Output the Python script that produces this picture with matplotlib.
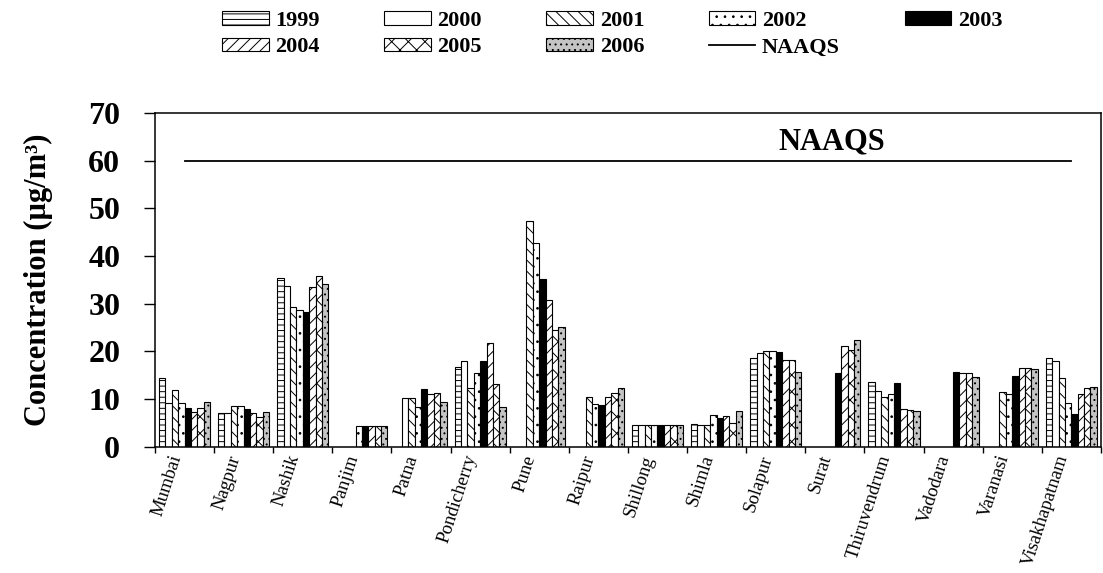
import numpy as np
import matplotlib
matplotlib.use("Agg")
import matplotlib.pyplot as plt

plt.rcParams['font.family'] = ['Liberation Serif', 'DejaVu Serif']
plt.rcParams['hatch.linewidth'] = 0.7

nan = np.nan

# cities along the x axis
cities = ["Mumbai", "Nagpur", "Nashik", "Panjim", "Patna", "Pondicherry", "Pune",
          "Raipur", "Shillong", "Shimla", "Solapur", "Surat", "Thiruvendrum",
          "Vadodara", "Varanasi", "Visakhapatnam"]

years = ["1999", "2000", "2001", "2002", "2003", "2004", "2005", "2006"]

# annual mean concentration (ug/m3) per city, one list per year
c1999 = [14.4, 7.2, 35.4, nan, nan, 16.8, nan, nan, 4.6, 4.8, 18.6, nan, 13.6, nan, nan, 18.6]
c2000 = [9.2, 7.1, 33.8, nan, 10.3, 18.0, nan, nan, 4.5, 4.6, 19.6, nan, 11.8, nan, nan, 18.0]
c2001 = [11.9, 8.6, 29.4, nan, 10.3, 12.3, 47.4, 10.5, 4.5, 4.6, 20.1, nan, 10.5, nan, 11.6, 14.4]
c2002 = [9.2, 8.6, 28.6, 4.4, 8.3, 15.5, 42.7, 9.1, 4.5, 6.7, 20.1, nan, 11.0, nan, 11.1, 9.2]
c2003 = [8.1, 7.9, 28.3, 4.4, 12.2, 18.0, 35.2, 8.8, 4.5, 6.1, 19.9, 15.4, 13.4, 15.6, 14.9, 7.0]
c2004 = [7.4, 7.1, 33.6, 4.4, 11.0, 21.7, 30.7, 10.4, 4.5, 6.4, 18.3, 21.2, 8.0, 15.5, 16.5, 11.0]
c2005 = [8.1, 6.2, 35.9, 4.4, 11.3, 13.2, 24.4, 11.3, 4.5, 5.0, 18.2, 20.3, 7.8, 15.5, 16.5, 12.3]
c2006 = [9.4, 7.4, 34.2, 4.4, 9.5, 8.3, 25.2, 12.3, 4.5, 7.6, 15.6, 22.4, 7.6, 14.6, 16.4, 12.6]

naaqs_limit = 60

series = [c1999, c2000, c2001, c2002, c2003, c2004, c2005, c2006]

# fill / hatch for each year (black and white print style)
fills = ["white", "white", "white", "white", "black", "white", "white", "#c4c4c4"]
hatches = ["---", None, "\\\\\\", "..", None, "///", "xx", "..."]

fig = plt.figure(figsize=(11.03, 5.73), dpi=100)
ax = fig.add_axes([0.1405, 0.22, 0.8576, 0.583])

n = len(cities)
centers = np.arange(n) + 0.5
w = 0.108

bars = []
for k, (yr, vals) in enumerate(zip(years, series)):
    b = ax.bar(centers + (k - 3.5) * w, vals, width=w, color=fills[k],
               edgecolor="black", linewidth=0.8, hatch=hatches[k], label=yr)
    bars.append(b)

line, = ax.plot(centers, [naaqs_limit] * n, color="black", lw=1.3, label="NAAQS")
ax.text(11.44, 63.9, "NAAQS", ha="center", va="center", fontsize=22, fontweight="bold")

ax.set_xlim(0, n)
ax.set_ylim(0, 70)
ax.set_yticks(np.arange(0, 71, 10))
ax.tick_params(axis="y", direction="out", length=8, width=1, pad=17, labelsize=23)
for t in ax.get_yticklabels():
    t.set_fontweight("bold")

ax.set_xticks(np.arange(n + 1))
ax.set_xticklabels([])
ax.tick_params(axis="x", which="major", direction="out", length=4.5, width=1)
ax.set_xticks(centers, minor=True)
ax.set_xticklabels(cities, minor=True, rotation=72, ha="right", va="bottom",
                   rotation_mode="anchor", fontsize=13.5)
ax.tick_params(axis="x", which="minor", length=0, pad=8)

for s in ax.spines.values():
    s.set_linewidth(1.1)

ax.set_ylabel("Concentration (µg/m³)", fontsize=22, fontweight="bold")
ax.yaxis.set_label_coords(-0.108, 0.5)

# legend rows: 1999-2003 on top, 2004-2006 + NAAQS below
handles = [b for b in bars] + [line]
labels = years + ["NAAQS"]
order = [0, 5, 1, 6, 2, 7, 3, 8, 4]
fig.legend([handles[i] for i in order], [labels[i] for i in order],
           loc="upper center", bbox_to_anchor=(0.555, 1.016), ncol=5, frameon=False,
           prop={"family": "Liberation Serif", "weight": "bold", "size": 16},
           handlelength=2.1, handleheight=0.55, handletextpad=0.3,
           columnspacing=2.9, labelspacing=0.3)

plt.savefig("out.png", dpi=100)
